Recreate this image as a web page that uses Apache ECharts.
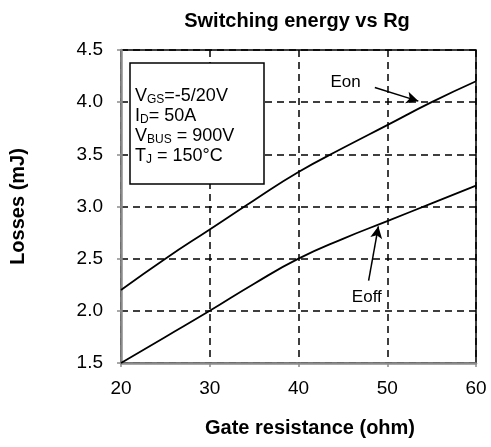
<!DOCTYPE html>
<html>
<head>
<meta charset="utf-8">
<script src="https://cdn.jsdelivr.net/npm/echarts@6/dist/echarts.min.js"></script>
<style>
  html, body { margin: 0; padding: 0; background: #fff; }
  #chart { width: 491px; height: 447px; }
</style>
</head>
<body>
<div id="chart"></div>
<script>
// gate resistance (ohm)
const rg = [20, 25, 30, 35, 40, 45, 50, 55, 60]
// losses (mJ)
const eon = [2.2, 2.5, 2.78, 3.06, 3.33, 3.56, 3.78, 4.0, 4.2]
const eoff = [1.5, 1.75, 2.0, 2.26, 2.5, 2.69, 2.86, 3.03, 3.2]

// arrow ends for the labels, in data units
const eonArrow = [[48.6, 4.14], [53.5, 4.01]]
const eoffArrow = [[47.9, 2.29], [49.0, 2.81]]

const font = 'Liberation Sans, Arial, sans-serif'

const chart = echarts.init(document.getElementById('chart'))

const arrowLine = (pts) => ({
  silent: true,
  symbol: ['none', 'arrow'],
  symbolSize: [9, 12],
  lineStyle: { color: '#000', width: 1.5, type: 'solid' },
  label: { show: false },
  data: [[{ coord: pts[0] }, { coord: pts[1] }]]
})

const labelPoint = (text, coord, extra) => ({
  silent: true,
  symbol: 'rect',
  symbolSize: 1,
  itemStyle: { color: 'rgba(0,0,0,0)' },
  label: Object.assign({
    show: true,
    position: 'inside',
    formatter: text,
    fontFamily: font,
    fontSize: 17,
    color: '#000'
  }, extra),
  data: [{ coord: coord }]
})

chart.setOption({
  animation: false,
  title: {
    text: 'Switching energy vs Rg',
    left: 292,
    top: 6,
    textAlign: 'center',
    textStyle: { fontFamily: font, fontSize: 20, fontWeight: 'bold', color: '#000' }
  },
  grid: {
    left: 121,
    right: 15,
    top: 50,
    bottom: 84,
    show: true,
    borderColor: '#000',
    borderWidth: 1.5
  },
  xAxis: {
    type: 'value',
    min: 20,
    max: 60,
    interval: 10,
    name: 'Gate resistance (ohm)',
    nameLocation: 'middle',
    nameGap: 55,
    nameTextStyle: { fontFamily: font, fontSize: 20, fontWeight: 'bold', color: '#000', padding: [0, 0, 0, 23] },
    axisLine: { lineStyle: { color: '#8c8c8c', width: 2.5 } },
    axisTick: { show: true, length: 4, lineStyle: { color: '#8c8c8c', width: 1.5 } },
    axisLabel: { fontFamily: font, fontSize: 19, color: '#000', margin: 16 },
    splitLine: { lineStyle: { color: '#000', type: [7, 5], width: 1.5 } }
  },
  yAxis: {
    type: 'value',
    min: 1.5,
    max: 4.5,
    interval: 0.5,
    name: 'Losses (mJ)',
    nameLocation: 'middle',
    nameGap: 93,
    nameTextStyle: { fontFamily: font, fontSize: 20, fontWeight: 'bold', color: '#000' },
    axisLine: { show: true, lineStyle: { color: '#8c8c8c', width: 2.5 } },
    axisTick: { show: true, length: 4, lineStyle: { color: '#8c8c8c', width: 1.5 } },
    axisLabel: {
      fontFamily: font,
      fontSize: 19,
      color: '#000',
      margin: 18,
      formatter: (v) => v.toFixed(1)
    },
    splitLine: { lineStyle: { color: '#000', type: [7, 5], width: 1.5 } }
  },
  series: [
    {
      name: 'Eon',
      type: 'line',
      smooth: true,
      symbol: 'none',
      lineStyle: { color: '#000', width: 1.8 },
      data: rg.map((x, i) => [x, eon[i]]),
      markLine: arrowLine(eonArrow),
      markPoint: labelPoint('Eon', [45.3, 4.19], {})
    },
    {
      name: 'Eoff',
      type: 'line',
      smooth: true,
      symbol: 'none',
      lineStyle: { color: '#000', width: 1.8 },
      data: rg.map((x, i) => [x, eoff[i]]),
      markLine: arrowLine(eoffArrow),
      markPoint: labelPoint('Eoff', [47.7, 2.13], { backgroundColor: '#fff', padding: [4, 2, 4, 2] })
    }
  ],
  graphic: [
    {
      type: 'rect',
      z: 100,
      shape: { x: 130, y: 63, width: 134, height: 121 },
      style: { fill: '#fff', stroke: '#000', lineWidth: 1.5 }
    },
    {
      type: 'text',
      z: 101,
      left: 135,
      top: 86,
      style: {
        text: 'V{s|GS}=-5/20V\nI{s|D}= 50A\nV{s|BUS} = 900V\nT{s|J} = 150°C',
        fontFamily: font,
        fontSize: 18,
        lineHeight: 20,
        fill: '#000',
        rich: {
          s: { fontFamily: font, fontSize: 12, lineHeight: 20, verticalAlign: 'bottom', fill: '#000', padding: [6, 0, 0, 0] }
        }
      }
    }
  ]
})
</script>
</body>
</html>
